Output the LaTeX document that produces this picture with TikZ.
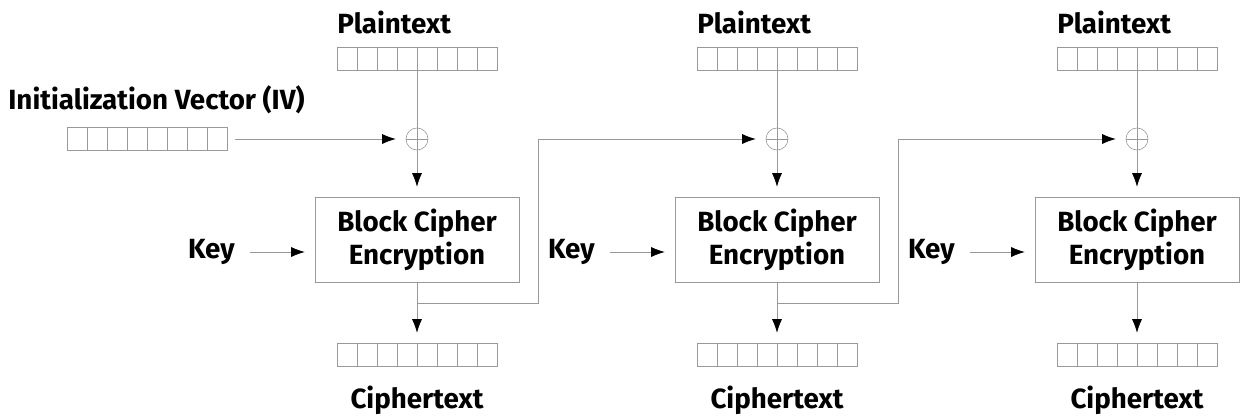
\documentclass[tikz,border=0pt]{standalone}
\usepackage{fontspec}
\setmainfont{Fira Sans}
\usetikzlibrary{arrows.meta,calc}
\definecolor{linec}{gray}{0.6}
\tikzset{
  txt/.style={font=\bfseries\fontsize{15.8}{18.7}\selectfont, inner sep=0pt},
  wire/.style={draw=linec, line width=0.35pt},
  arr/.style={wire, -{Latex[length=0.27cm,width=0.2cm,color=black]}, shorten >=0.2cm},
  % an 8-cell data block
  reg/.style={wire, minimum width=3.2cm, minimum height=0.46cm, inner sep=0pt,
    path picture={
      \foreach \i in {1,...,7}
        \draw[wire] ($(path picture bounding box.south west)!\i/8!(path picture bounding box.south east)$)
                 -- ($(path picture bounding box.north west)!\i/8!(path picture bounding box.north east)$);
    }},
  cipherbox/.style={wire, txt, minimum width=4.08cm, minimum height=1.7cm, align=center},
  xorop/.style={circle, wire, minimum size=0.44cm, inner sep=0pt,
    path picture={
      \draw[wire] (path picture bounding box.north) -- (path picture bounding box.south)
                  (path picture bounding box.west) -- (path picture bounding box.east);
    }},
}
\begin{document}
\begin{tikzpicture}[x=0.02cm, y=-0.02cm]
\useasboundingbox (0,0) rectangle (1245,417);

% initialization vector
\node[txt, anchor=base west] (ivl) at (8,109) {Initialization Vector (IV)};
\node[reg] (iv) at (147,139) {};

% three CBC stages
\foreach \c [count=\n] in {417,777,1137} {
  \node[txt, anchor=base west] (pl\n) at (\c-80,33) {Plaintext};
  \node[reg] (p\n) at (\c,58.5) {};
  \node[xorop] (x\n) at (\c,139) {};
  \node[cipherbox] (b\n) at (\c,239.5) {Block Cipher\\Encryption};
  \node[reg] (c\n) at (\c,354.5) {};
  \node[txt, anchor=base] (cl\n) at (\c,408) {Ciphertext};
  \node[txt, anchor=base east] (k\n) at (\c-182,258) {Key};

  \draw[wire] (p\n.south) -- (x\n.north);
  \draw[arr] (x\n.south) -- (b\n.north);
  \draw[arr] (b\n.south) -- (c\n.north);
  \draw[arr] ($(k\n.base east)+(15,-6)$) -- ($(k\n.base east -| b\n.west)+(0,-6)$);
}

\draw[arr] ([xshift=0.16cm]iv.east) -- (x1.west);

% ciphertext feeds the next stage
\coordinate (t1) at (538,303);
\coordinate (t2) at (898,303);
\draw[arr] (b1.south |- t1) -- (t1) -- (t1 |- x2.west) -- (x2.west);
\draw[arr] (b2.south |- t2) -- (t2) -- (t2 |- x3.west) -- (x3.west);
\end{tikzpicture}
\end{document}
